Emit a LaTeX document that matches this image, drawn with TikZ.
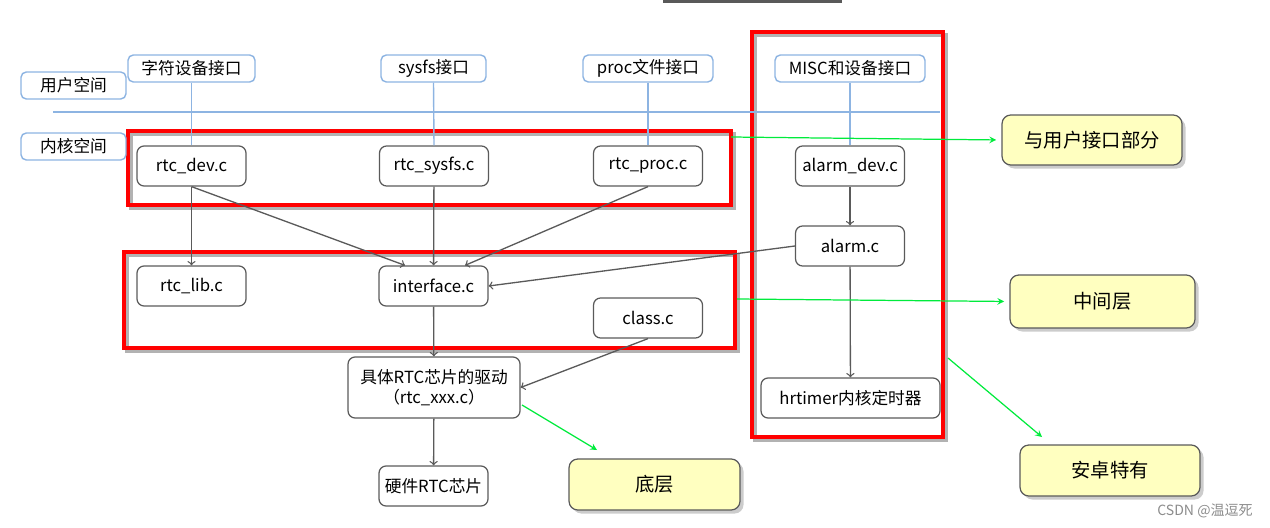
\documentclass[tikz,border=0pt]{standalone}
\usepackage{fontspec}
\setmainfont{Noto Sans CJK SC}
\usetikzlibrary{shadows}
\definecolor{userblue}{RGB}{141,180,226}
\definecolor{boxgray}{RGB}{90,90,90}
\definecolor{frame}{RGB}{255,0,0}
\definecolor{hint}{RGB}{0,235,60}
\definecolor{note}{RGB}{255,255,192}

\begin{document}
\begin{tikzpicture}[x=0.02cm, y=-0.02cm, >=stealth, font=\fontsize{9.5}{11}\selectfont,
        space/.style={draw=userblue, line width=0.8pt, rounded corners=3pt, fill=white,
            minimum width=2.1cm, minimum height=0.54cm, inner sep=0pt},
        src/.style={draw=boxgray, line width=0.7pt, rounded corners=4pt, fill=white,
            minimum width=2.18cm, minimum height=0.8cm, inner sep=0pt},
        part/.style={draw=frame, line width=2.3pt,
            preaction={draw=black!30, line width=2.3pt, transform canvas={xshift=1.5pt, yshift=-1.5pt}}},
        tag/.style={draw=boxgray, line width=0.7pt, rounded corners=5pt, fill=note,
            minimum width=3.6cm, minimum height=1cm, font=\fontsize{11}{13}\selectfont,
            drop shadow={opacity=0.4, shadow xshift=2pt, shadow yshift=-2pt}},
        link/.style={-to, draw=boxgray, line width=0.75pt},
        hintarrow/.style={->, draw=hint, line width=0.7pt}]
        \useasboundingbox (0,0) rectangle (1270,527);
        % cut-off box at the top
        \draw[black!65, line width=2pt] (663,1) --(842,1);
        % red frames
        \draw[part] (128,131) rectangle (731,205);
        \draw[part] (124,252) rectangle (735,348);
        \draw[part] (752,32) rectangle (943,437);
        % user / kernel space
        \node[space] (user) at (73.5,85.5) {用户空间};
        \node[space] (kernel) at (73.5,146.5) {内核空间};
        \draw[userblue, line width=0.8pt] (53,112) --(940,112);
        \node[space, minimum width=2.54cm] (chrif) at (191.5,68.5) {字符设备接口};
        \node[space] (sysfsif) at (433.5,68.5) {sysfs接口};
        \node[space, minimum width=2.6cm] (procif) at (648,68.5) {proc文件接口};
        \node[space, minimum width=3cm] (miscif) at (850,68.5) {MISC和设备接口};
        % source files
        \node[src] (dev) at (191.5,166) {rtc\_dev.c};
        \node[src] (sysfs) at (434,166) {rtc\_sysfs.c};
        \node[src] (proc) at (648,166) {rtc\_proc.c};
        \node[src] (alarmdev) at (850,166) {alarm\_dev.c};
        \node[src] (alarm) at (850,246) {alarm.c};
        \node[src] (lib) at (191.5,286) {rtc\_lib.c};
        \node[src] (iface) at (433.5,286) {interface.c};
        \node[src] (class) at (648,318) {class.c};
        \node[src, minimum width=3.44cm, minimum height=1.22cm, align=center] (driver) at (434,387.5)
            {具体RTC芯片的驱动\\（rtc\_xxx.c）};
        \node[src] (hw) at (433.5,486) {硬件RTC芯片};
        \node[src, minimum width=3.58cm] (hrtimer) at (850.5,398) {hrtimer内核定时器};
        \foreach \a/\b in {chrif/dev, sysfsif/sysfs, procif/proc, miscif/alarmdev}
            {
                \draw[userblue, line width=0.8pt] (\a.south) --(\b.north);
            }
        % calls
        \draw[link] (dev) --(lib);
        \draw[link] (dev.south) --([xshift=-0.57cm]iface.north);
        \draw[link] (sysfs) --(iface);
        \draw[link] (proc.south) --([xshift=0.63cm]iface.north);
        \draw[link] (alarmdev) --(alarm);
        \draw[link] (alarm.west) --(iface.east);
        \draw[link] (alarm) --(hrtimer);
        \draw[link] (iface) --(driver);
        \draw[link] (class.south) --(driver.east);
        \draw[link] (driver) --(hw);
        % notes
        \node[tag] (userpart) at (1092,140) {与用户接口部分};
        \node[tag, minimum width=3.7cm, minimum height=1.06cm] (midpart) at (1102.5,301.5) {中间层};
        \node[tag, minimum width=3.42cm, minimum height=1.02cm] (lowpart) at (654.5,484.5) {底层};
        \node[tag, minimum height=1.02cm] (android) at (1110,470.5) {安卓特有};
        \coordinate (g1) at (731,137); \coordinate (g2) at (737,299);
        \coordinate (g3) at (522,405); \coordinate (g3end) at (597,450);
        \coordinate (g4) at (948,358); \coordinate (g4end) at (1042,437);
        \draw[hintarrow, shorten >=3pt] (g1) --(userpart.west);
        \draw[hintarrow, shorten >=3pt] (g2) --(midpart.west);
        \draw[hintarrow] (g3) --(g3end);
        \draw[hintarrow] (g4) --(g4end);
        \node[text=black!45, font=\fontsize{8}{10}\selectfont] (mark) at (1205,511) {CSDN @温逗死};
    \end{tikzpicture}
\end{document}
